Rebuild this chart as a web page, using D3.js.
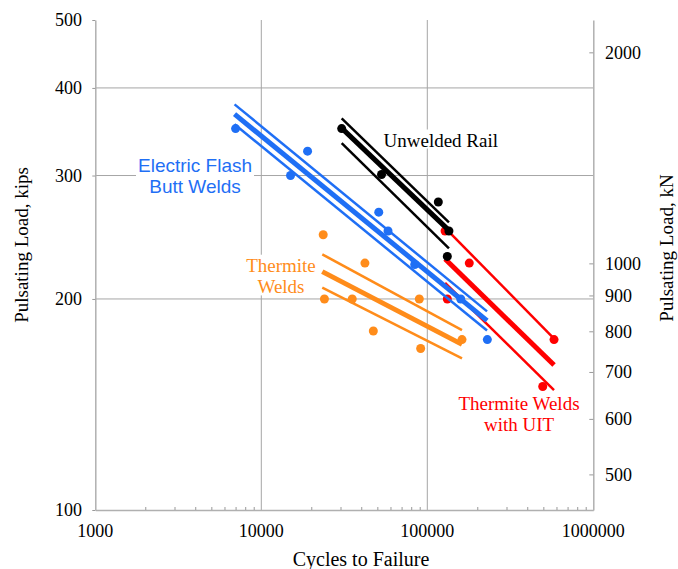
<!DOCTYPE html>
<html lang="en">
<head>
<meta charset="UTF-8" />
<title>Pulsating load vs cycles to failure</title>
<script src="https://d3js.org/d3.v7.js"></script>
<style>
  body { margin: 0; background: #fff; }
  text { font-family: "Liberation Serif", "Times New Roman", serif; }
</style>
</head>
<body>
<svg id="chart"></svg>
<script>
// test points: cycles to failure (N) and pulsating load (kips)
var flashN = [7000, 15000, 19000, 51000, 58000, 84000, 159000, 230000];
var flashP = [350, 300, 325, 266, 250, 224, 200, 175];
var railN = [30500, 53000, 116500, 135000, 132000];
var railP = [350, 301, 275, 250, 230];
var uitN = [128000, 179000, 132000, 580000, 496000];
var uitP = [250, 225, 200, 175, 150];
var thermN = [23600, 24000, 35300, 42100, 89500, 47300, 91200, 161800];
var thermP = [247, 200, 200, 225, 200, 180, 170, 175];

// fitted lines: N range, load at start/end for mean, upper and lower bound
var flashFitN = [6900, 229000];
var flashMean = [367, 186.3], flashUpper = [379, 192], flashLower = [355, 180.3];
var railFitN = [30500, 135000];
var railMean = [350.6, 250.5], railUpper = [362, 257.2], railLower = [333.6, 236.2];
var uitFitN = [128000, 580000];
var uitMean = [228, 161], uitUpper = [252.6, 175.6], uitLower = [210.8, 148.3];
var thermFitN = [23300, 161800];
var thermMean = [218.8, 172.3], thermUpper = [231.6, 180.6], thermLower = [207.6, 164.6];

// axis ticks
var xTicks = [1000, 10000, 100000, 1000000];
var yTicks = [100, 200, 300, 400, 500];
var kNTicks = [500, 600, 700, 800, 900, 1000, 2000];
var KIP_TO_KN = 4.448222;

var width = 678, height = 569;
var plotLeft = 95.3, plotRight = 593.3, plotTop = 20, plotBottom = 510;

var svg = d3.select("#chart").attr("width", width).attr("height", height);

var x = d3.scaleLog().domain([1000, 1000000]).range([plotLeft, plotRight]);
var y = d3.scaleLog().domain([100, 500]).range([plotBottom, plotTop]);
var yKN = d3.scaleLog().domain([100 * KIP_TO_KN, 500 * KIP_TO_KN]).range([plotBottom, plotTop]);

var gridColor = "#a6a6a6";

// gridlines
svg.append("g").selectAll("line")
  .data([10000, 100000])
  .enter().append("line")
  .attr("x1", d => x(d)).attr("x2", d => x(d))
  .attr("y1", plotTop).attr("y2", plotBottom)
  .attr("stroke", gridColor).attr("stroke-width", 1);

svg.append("g").selectAll("line")
  .data([200, 300, 400])
  .enter().append("line")
  .attr("x1", plotLeft).attr("x2", plotRight)
  .attr("y1", d => y(d)).attr("y2", d => y(d))
  .attr("stroke", gridColor).attr("stroke-width", 1);

// bottom axis with minor ticks pointing inward
var minorX = [];
[1000, 10000, 100000].forEach(function (dec) {
  for (var k = 2; k <= 9; k++) minorX.push(dec * k);
});
var xAxis = svg.append("g").attr("transform", `translate(0,${plotBottom})`)
  .call(d3.axisBottom(x).tickValues(minorX).tickSize(-3).tickSizeOuter(0).tickFormat(""));
xAxis.select(".domain").attr("stroke", "#b0b0b0").attr("stroke-width", 1.5);
xAxis.selectAll(".tick line").attr("stroke", "#999");

svg.append("g").selectAll("text")
  .data(xTicks)
  .enter().append("text")
  .attr("x", d => x(d)).attr("y", 537)
  .attr("text-anchor", "middle")
  .attr("font-size", 18)
  .text(d => d);

// left axis
var yAxis = svg.append("g").attr("transform", `translate(${plotLeft},0)`)
  .call(d3.axisLeft(y).tickValues(yTicks).tickSize(3).tickSizeOuter(0).tickFormat(""));
yAxis.select(".domain").attr("stroke", "#b0b0b0").attr("stroke-width", 1.5);
yAxis.selectAll(".tick line").attr("stroke", "#999");

svg.append("g").selectAll("text")
  .data(yTicks)
  .enter().append("text")
  .attr("x", 82).attr("y", d => y(d))
  .attr("dy", "0.35em")
  .attr("text-anchor", "end")
  .attr("font-size", 18)
  .text(d => d);

// right axis in kN, ticks inward
var rAxis = svg.append("g").attr("transform", `translate(${plotRight},0)`)
  .call(d3.axisLeft(yKN).tickValues(kNTicks).tickSize(4).tickSizeOuter(0).tickFormat(""));
rAxis.select(".domain").attr("stroke", "#b0b0b0").attr("stroke-width", 1.5);
rAxis.selectAll(".tick line").attr("stroke", "#999");

svg.append("g").selectAll("text")
  .data(kNTicks)
  .enter().append("text")
  .attr("x", 605).attr("y", d => yKN(d))
  .attr("dy", "0.35em")
  .attr("font-size", 18)
  .text(d => d);

// axis titles
svg.append("text")
  .attr("transform", "translate(28,245) rotate(-90)")
  .attr("text-anchor", "middle").attr("font-size", 19)
  .text("Pulsating Load, kips");
svg.append("text")
  .attr("transform", "translate(673,248) rotate(-90)")
  .attr("text-anchor", "middle").attr("font-size", 19)
  .text("Pulsating Load, kN");
svg.append("text")
  .attr("x", 361).attr("y", 566)
  .attr("text-anchor", "middle").attr("font-size", 20)
  .text("Cycles to Failure");

// series labels with white boxes that hide the gridlines
function label(lines, cx, y0, color, family, anchor) {
  var g = svg.append("g");
  var rect = g.append("rect").attr("fill", "#fff");
  var t = g.append("text")
    .attr("x", cx).attr("y", y0)
    .attr("text-anchor", anchor || "middle")
    .attr("font-size", 19)
    .attr("fill", color);
  if (family) t.style("font-family", family);
  lines.forEach(function (s, i) {
    t.append("tspan").attr("x", cx).attr("dy", i === 0 ? 0 : 21.7).text(s);
  });
  var b = t.node().getBBox();
  rect.attr("x", b.x - 2).attr("y", b.y).attr("width", b.width + 4).attr("height", b.height - 2);
}

var blue = "#1f6ff5", orange = "#ff8c1a", red = "#ff0000", black = "#000000";

label(["Electric Flash", "Butt Welds"], 195, 171.5, blue, '"Liberation Sans", Arial, sans-serif');
label(["Unwelded Rail"], 383.5, 146.5, black, null, "start");
label(["Thermite", "Welds"], 281, 271.7, orange);
label(["Thermite Welds", "with UIT"], 519, 409.5, red);

// fitted bands and test points
function series(fitN, mean, upper, lower, ptsN, ptsP, color) {
  var g = svg.append("g");
  var line = d3.line().x(d => x(d[0])).y(d => y(d[1]));
  [[upper, 2.5], [lower, 2.5], [mean, 5]].forEach(function (l) {
    g.append("path")
      .attr("d", line([[fitN[0], l[0][0]], [fitN[1], l[0][1]]]))
      .attr("stroke", color).attr("stroke-width", l[1])
      .attr("fill", "none");
  });
  g.selectAll("circle")
    .data(ptsN.map((n, i) => [n, ptsP[i]]))
    .enter().append("circle")
    .attr("cx", d => x(d[0])).attr("cy", d => y(d[1]))
    .attr("r", 4.5).attr("fill", color);
}

series(thermFitN, thermMean, thermUpper, thermLower, thermN, thermP, orange);
series(uitFitN, uitMean, uitUpper, uitLower, uitN, uitP, red);
series(railFitN, railMean, railUpper, railLower, railN, railP, black);
series(flashFitN, flashMean, flashUpper, flashLower, flashN, flashP, blue);
</script>
</body>
</html>
